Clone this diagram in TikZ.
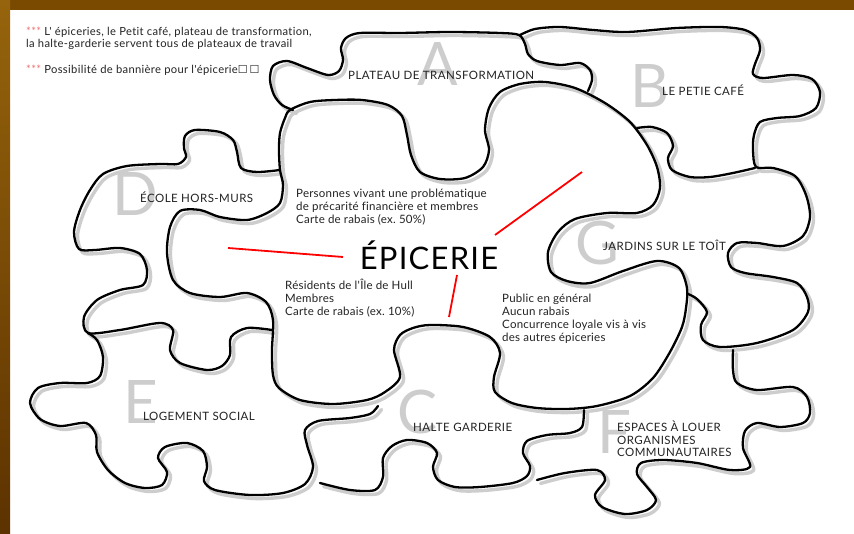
\documentclass[tikz,border=0pt]{standalone}
\usepackage{fontspec}
\setmainfont{Lato}
\newfontfamily\lsA[LetterSpace=2,Ligatures=NoCommon]{Lato}
\newfontfamily\lsB[LetterSpace=3,Ligatures=NoCommon]{Lato}
\newfontfamily\lsC[LetterSpace=4,Ligatures=NoCommon]{Lato}
\newfontfamily\symbfont{DejaVu Sans}
\definecolor{frametop}{RGB}{122,74,0}
\definecolor{frameA}{RGB}{150,100,12}
\definecolor{frameB}{RGB}{92,50,0}
\definecolor{shadowgray}{RGB}{205,205,205}
\definecolor{lettergray}{RGB}{205,205,205}
\definecolor{textdark}{RGB}{35,35,35}
\definecolor{starred}{RGB}{240,110,110}
\newcommand\puzzlepaths[1]{%
  % A piece outline
  \draw[#1] plot[smooth] coordinates {(293,110) (282,105) (274,95) (270,80) (273,66) (287,61) (307,68) (328,75) (339,71) (343,60) (341,48) (346,38) (360,33) (400,33) (450,32) (500,33) (519,35) (525,44) (528,54) (537,61) (560,65) (580,63) (590,70) (592,80) (588,91)};
  % B top / right and G right / bottom
  \draw[#1] plot[smooth] coordinates {(520,35) (535,29) (560,27) (593,30) (627,32) (677,28) (720,27) (745,30) (757,38) (760,50) (755,64) (753,74) (763,78) (793,75) (812,79) (820,92) (816,108) (800,116) (777,118) (760,122) (754,135) (753,150) (756,167) (773,168) (795,176) (806,195) (810,217) (803,236) (783,246) (757,243) (737,243) (728,253) (731,267) (745,273) (773,277) (797,283) (807,297) (808,312) (793,330) (757,343) (720,347) (703,340) (701,325) (707,312) (697,299) (688,294)};
  % B / G boundary
  \draw[#1] plot[smooth] coordinates {(637,128) (652,127) (667,133) (673,146) (668,158) (672,170) (690,177) (710,177) (733,173) (755,168)};
  % epicerie
  \draw[#1] plot[smooth cycle] coordinates {(290,110) (310,102) (335,100) (362,100) (388,105) (402,116) (407,135) (411,155) (420,172) (440,179) (465,178) (483,167) (489,150) (485,130) (489,108) (500,92) (520,84) (545,82) (575,88) (605,103) (630,122) (647,145) (657,167) (660,188) (653,205) (637,213) (607,213) (575,219) (558,232) (548,252) (551,272) (567,281) (590,283) (623,271) (657,261) (679,268) (687,288) (686,308) (682,327) (670,352) (653,378) (630,396) (597,406) (567,409) (537,408) (512,403) (495,392) (494,377) (500,353) (490,337) (463,327) (430,325) (413,328) (400,335) (394,350) (400,377) (385,392) (367,400) (333,404) (300,400) (279,388) (273,375) (272,350) (273,320) (266,302) (247,293) (220,297) (190,293) (173,280) (167,253) (170,227) (180,211) (200,210) (220,217) (247,220) (267,213) (280,203) (283,185) (280,170) (279,150) (280,133) (285,118)};
  % D piece
  \draw[#1] plot[smooth] coordinates {(280,170) (257,172) (241,168) (237,152) (233,140) (220,132) (195,130) (185,136) (184,148) (186,157) (178,164) (160,164) (127,166) (103,174) (90,190) (80,210) (74,232) (79,249) (95,250) (120,248) (140,254) (147,270) (143,285) (120,290) (97,300) (84,317) (88,333) (120,330) (160,323) (173,330) (170,350) (180,363) (207,370) (222,366) (230,355) (231,337) (247,328) (272,330)};
  % E piece
  \draw[#1] plot[smooth] coordinates {(88,333) (97,340) (103,357) (100,376) (87,383) (60,383) (38,388) (30,403) (40,419) (60,426) (86,423) (96,435) (97,452) (108,470) (125,483) (145,488) (162,485) (167,472) (158,458) (165,447) (187,443) (203,451) (207,467) (204,481) (215,490) (250,495) (283,493) (305,484) (313,467) (307,445) (305,430) (318,421) (350,418) (370,414) (378,406)};
  % C piece bottom
  \draw[#1] plot[smooth] coordinates {(320,483) (350,490) (375,490) (383,477) (383,458) (392,446) (407,440) (427,443) (437,453) (433,467) (438,480) (455,487) (480,487) (513,483) (527,476) (530,466) (523,453) (527,441) (547,435) (570,433) (582,427) (584,410)};
  % F piece
  \draw[#1] plot[smooth] coordinates {(733,350) (733,370) (737,383) (757,390) (793,387) (807,397) (810,413) (803,423) (780,427) (757,423) (745,431) (743,448) (750,467) (730,470) (697,463) (663,460) (641,463) (637,474) (647,487) (656,500) (647,510) (625,514) (602,507) (595,495) (605,480) (597,470) (565,473) (537,480)};
}
\begin{document}
\frenchspacing
\begin{tikzpicture}[x=1pt,y=-1pt,
  shadowline/.style={draw=shadowgray,line width=3.4pt,line cap=round,line join=round},
  pieceline/.style={draw=black,line width=2.3pt,line cap=round,line join=round},
  redline/.style={draw=red,line width=1.8pt},
  bigletter/.style={text=lettergray,font=\fontsize{60}{60}\selectfont,inner sep=0pt},
  label/.style={text=textdark,font=\lsC\fontsize{11.5}{12.5}\selectfont,inner sep=0pt,anchor=west},
  body/.style={text=textdark,font=\lsA\fontsize{11.5}{12.8}\selectfont,inner sep=0pt,anchor=north west,align=left},
  note/.style={text=textdark,font=\lsB\fontsize{11.2}{11.4}\selectfont,inner sep=0pt,anchor=north west,align=left}]
\useasboundingbox (0,0) rectangle (854,534);
\fill[white] (0,0) rectangle (854,534);
\fill[frametop] (0,0) rectangle (854,10);
\shade[top color=frameA,bottom color=frameB] (0,0) rectangle (10,534);

% big grey letters
\node[bigletter] (la) at (438,64) {A};
\node[bigletter] (lb) at (650,86) {B};
\node[bigletter] (ld) at (135,194) {D};
\node[bigletter] (lg) at (597,243) {G};
\node[bigletter] (le) at (141,402) {E};
\node[bigletter] (lc) at (418,412) {C};
\node[bigletter] (lf) at (614,432) {F};

% puzzle outlines
\begin{scope}[shift={(3.5,3.5)}]
\puzzlepaths{shadowline}
\end{scope}
\puzzlepaths{pieceline}

% notes
\node[note] (n1) at (26,27) {{\color{starred}***} L' épiceries, le Petit café, plateau de transformation,\\la halte-garderie servent tous de plateaux de travail};
\node[note] (n2) at (26,65) {{\color{starred}***} Possibilité de bannière pour l'épicerie{\symbfont\fontsize{11}{11}\selectfont☐\,☐}};

% piece labels
\node[label] (ta) at (348,75) {PLATEAU DE TRANSFORMATION};
\node[label] (tb) at (662,90) {LE PETIE CAFÉ};
\node[label] (td) at (140,197) {ÉCOLE HORS-MURS};
\node[label] (tg) at (603,245) {JARDINS SUR LE TOÎT};
\node[label] (te) at (143,416) {LOGEMENT SOCIAL};
\node[label] (tc) at (413,427) {HALTE GARDERIE};
\node[body,font=\lsC\fontsize{11.5}{12.5}\selectfont] (tf) at (617,421) {ESPACES À LOUER\\ORGANISMES\\COMMUNAUTAIRES};

% epicerie
\node[text=black,font=\lsC\fontsize{31}{31}\selectfont,inner sep=0pt] (epi) at (429,255) {ÉPICERIE};
\node[body] (p1) at (296,189) {Personnes vivant une problématique\\de précarité financière et membres\\Carte de rabais (ex. 50\%)};
\node[body] (p2) at (285,279) {Résidents de l'Île de Hull\\Membres\\Carte de rabais (ex. 10\%)};
\node[body] (p3) at (502,294) {Public en général\\Aucun rabais\\Concurrence loyale vis à vis\\des autres épiceries};

% red connectors
\coordinate (r1a) at (228,248);
\coordinate (r1b) at (343,257);
\coordinate (r2a) at (495,235);
\coordinate (r2b) at (582,172);
\coordinate (r3a) at (457,275);
\coordinate (r3b) at (449,317);
\draw[redline] (r1a) -- (r1b);
\draw[redline] (r2a) -- (r2b);
\draw[redline] (r3a) -- (r3b);
\end{tikzpicture}
\end{document}
